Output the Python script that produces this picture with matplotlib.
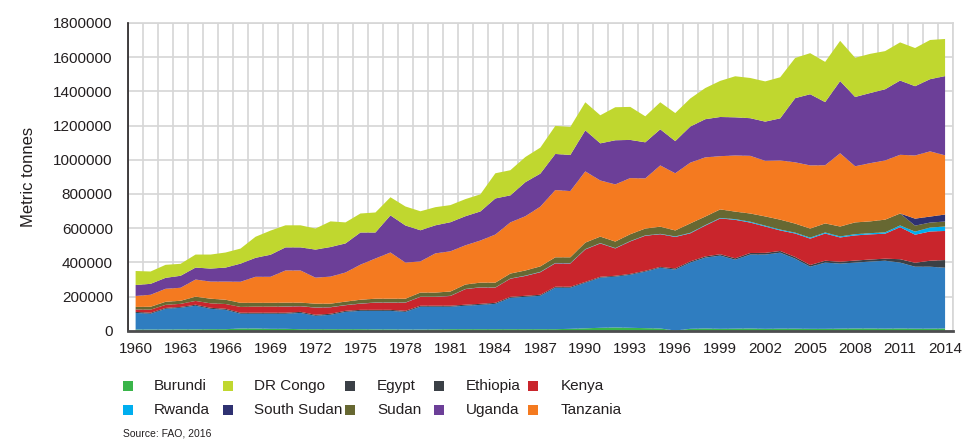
import matplotlib
matplotlib.use("Agg")
import matplotlib.pyplot as plt
import numpy as np
from matplotlib.patches import Rectangle
from matplotlib.ticker import MultipleLocator, FuncFormatter

plt.rcParams["font.family"] = ["Liberation Sans", "DejaVu Sans"]

years = list(range(1960, 2015))

# annual catch per country, thousand metric tonnes
burundi = [8, 8, 8, 9, 9, 10, 10, 14, 14, 12, 12, 10, 10, 10, 10, 10, 9, 9, 8, 8,
           9, 10, 10, 10, 10, 10, 10, 10, 10, 12, 15, 18, 20, 18, 16, 14, 2, 12, 14, 12,
           13, 14, 12, 13, 13, 12, 12, 13, 14, 14, 13, 14, 13, 13, 14]
egypt = [97, 92, 121, 126, 138, 119, 113, 86, 86, 88, 88, 95, 78, 84, 101, 107, 108, 108, 103, 133,
         132, 131, 137, 142, 148, 183, 189, 195, 242, 240, 266, 293, 297, 310, 330, 355, 356, 387, 414, 428,
         403, 432, 434, 444, 409, 363, 387, 380, 385, 391, 397, 385, 362, 362, 355]
ethiopia = [6, 6, 5, 5, 6, 6, 6, 6, 6, 6, 6, 6, 6, 6, 6, 6, 6, 6, 6, 6,
            6, 6, 6, 6, 6, 6, 6, 6, 6, 6, 5, 5, 5, 5, 5, 5, 7, 7, 7, 8,
            8, 9, 10, 10, 10, 10, 11, 11, 12, 12, 12, 20, 23, 35, 45]
kenya = [14, 18, 18, 18, 22, 26, 28, 34, 36, 36, 36, 33, 42, 38, 33, 36, 42, 42, 48, 52,
         52, 57, 91, 96, 89, 106, 116, 132, 137, 136, 190, 195, 160, 190, 205, 191, 184, 164, 180, 209,
         225, 178, 154, 120, 137, 154, 159, 142, 147, 147, 146, 187, 164, 171, 170]
rwanda = [0, 0, 0, 0, 0, 0, 0, 0, 0, 0, 1, 1, 1, 1, 1, 1, 1, 1, 1, 1,
          1, 1, 1, 1, 1, 1, 2, 2, 2, 2, 2, 2, 2, 2, 2, 2, 3, 3, 3, 3,
          4, 5, 5, 5, 5, 6, 6, 6, 7, 7, 8, 10, 18, 23, 26]
sudan = [15, 17, 18, 18, 25, 27, 25, 24, 22, 22, 22, 20, 22, 20, 20, 22, 22, 22, 22, 24,
         24, 25, 26, 27, 28, 29, 30, 32, 33, 34, 38, 38, 38, 40, 40, 42, 35, 55, 50, 50,
         44, 48, 54, 58, 53, 53, 53, 58, 69, 69, 74, 70, 35, 29, 29]
south_sudan = [0] * 51 + [0, 41, 35, 41]
tanzania = [64, 70, 76, 76, 100, 100, 106, 123, 152, 152, 188, 188, 152, 158, 170, 205, 235, 270, 211, 182,
            229, 235, 229, 246, 281, 299, 317, 349, 393, 387, 416, 328, 334, 328, 293, 358, 334, 355, 346, 311,
            328, 337, 325, 346, 358, 369, 340, 428, 328, 340, 346, 343, 369, 381, 346]
uganda = [64, 64, 64, 70, 70, 76, 82, 106, 111, 129, 135, 135, 164, 173, 170, 188, 152, 217, 217, 182,
          164, 170, 170, 170, 211, 158, 199, 193, 211, 211, 240, 217, 258, 223, 211, 211, 188, 211, 223, 229,
          223, 220, 229, 246, 375, 416, 369, 422, 405, 410, 416, 434, 405, 422, 463]
dr_congo = [82, 72, 76, 70, 76, 82, 88, 88, 123, 141, 129, 129, 123, 150, 123, 111, 117, 106, 111, 111,
            106, 100, 100, 100, 147, 147, 147, 152, 164, 164, 164, 164, 193, 193, 152, 158, 164, 164, 182, 211,
            240, 235, 235, 240, 235, 240, 235, 235, 229, 229, 223, 223, 223, 229, 217]

# stacking order from the bottom up
stack_names = ["Burundi", "Egypt", "Ethiopia", "Kenya", "Rwanda", "Sudan",
               "South Sudan", "Tanzania", "Uganda", "DR Congo"]
stack_values = [burundi, egypt, ethiopia, kenya, rwanda, sudan,
                south_sudan, tanzania, uganda, dr_congo]
area_colors = {
    "Burundi": "#3ab54a", "Egypt": "#2f7dc0", "Ethiopia": "#3b4046",
    "Kenya": "#c9252c", "Rwanda": "#00aeef", "Sudan": "#676832",
    "South Sudan": "#2e3171", "Tanzania": "#f47a20", "Uganda": "#6c3f98",
    "DR Congo": "#c0d72f",
}

# legend as printed in the report, two rows of five
legend_rows = [
    [("Burundi", "#3ab54a"), ("DR Congo", "#c0d72f"), ("Egypt", "#3b4046"),
     ("Ethiopia", "#3b4046"), ("Kenya", "#c9252c")],
    [("Rwanda", "#00aeef"), ("South Sudan", "#2e3171"), ("Sudan", "#676832"),
     ("Uganda", "#6c3f98"), ("Tanzania", "#f47a20")],
]

W, H = 978, 440
fig = plt.figure(figsize=(W / 100, H / 100), dpi=100)
ax = fig.add_axes([0.131, 0.248, 0.843, 0.700])

values = np.array(stack_values, dtype=float) * 1000
ax.stackplot(years, values, colors=[area_colors[n] for n in stack_names],
             linewidth=0, zorder=2)

ax.set_xlim(1959.5, 2014.5)
ax.set_ylim(0, 1800000)
ax.set_xticks(list(range(1960, 2015, 3)))
ax.set_xticks(np.arange(1959.5, 2015, 1), minor=True)
ax.yaxis.set_major_locator(MultipleLocator(200000))
ax.yaxis.set_major_formatter(FuncFormatter(lambda v, p: "%d" % v))

ax.grid(True, which="minor", axis="x", color="#d6d6d6", linewidth=1.2, zorder=0)
ax.grid(True, which="major", axis="y", color="#d6d6d6", linewidth=1.2, zorder=0)
ax.set_axisbelow(True)

ax.tick_params(axis="both", which="both", length=0)
ax.tick_params(axis="y", labelsize=11, pad=11, colors="#231f20")
ax.tick_params(axis="x", labelsize=11, pad=8, colors="#231f20")

for side in ["top", "right"]:
    ax.spines[side].set_color("#d6d6d6")
    ax.spines[side].set_linewidth(1.2)
ax.spines["left"].set_color("#231f20")
ax.spines["left"].set_linewidth(1.2)
ax.spines["bottom"].set_color("#4d4d4f")
ax.spines["bottom"].set_linewidth(2)
ax.spines["left"].set_zorder(3)
ax.spines["bottom"].set_zorder(3)

ax.set_ylabel("Metric tonnes", fontsize=12, color="#231f20")
ax.yaxis.set_label_coords(-0.112, 0.5)

# hand-placed legend: square left edge, label left edge (pixels), row centres
col_square = [123, 223, 345, 434, 528]
col_text = [154, 254, 377, 466, 561]
row_y = [386, 410]
sq = 10
for r, row in enumerate(legend_rows):
    for c, (name, color) in enumerate(row):
        fig.patches.append(Rectangle(
            (col_square[c] / W, 1 - (row_y[r] + sq / 2) / H), sq / W, sq / H,
            transform=fig.transFigure, facecolor=color, edgecolor="none"))
        fig.text(col_text[c] / W, 1 - row_y[r] / H, name, fontsize=11,
                 color="#231f20", va="center", ha="left")

fig.text(123 / W, 1 - 433 / H, "Source: FAO, 2016", fontsize=7.5,
         color="#231f20", va="center", ha="left")

fig.savefig("out.png", dpi=100)
